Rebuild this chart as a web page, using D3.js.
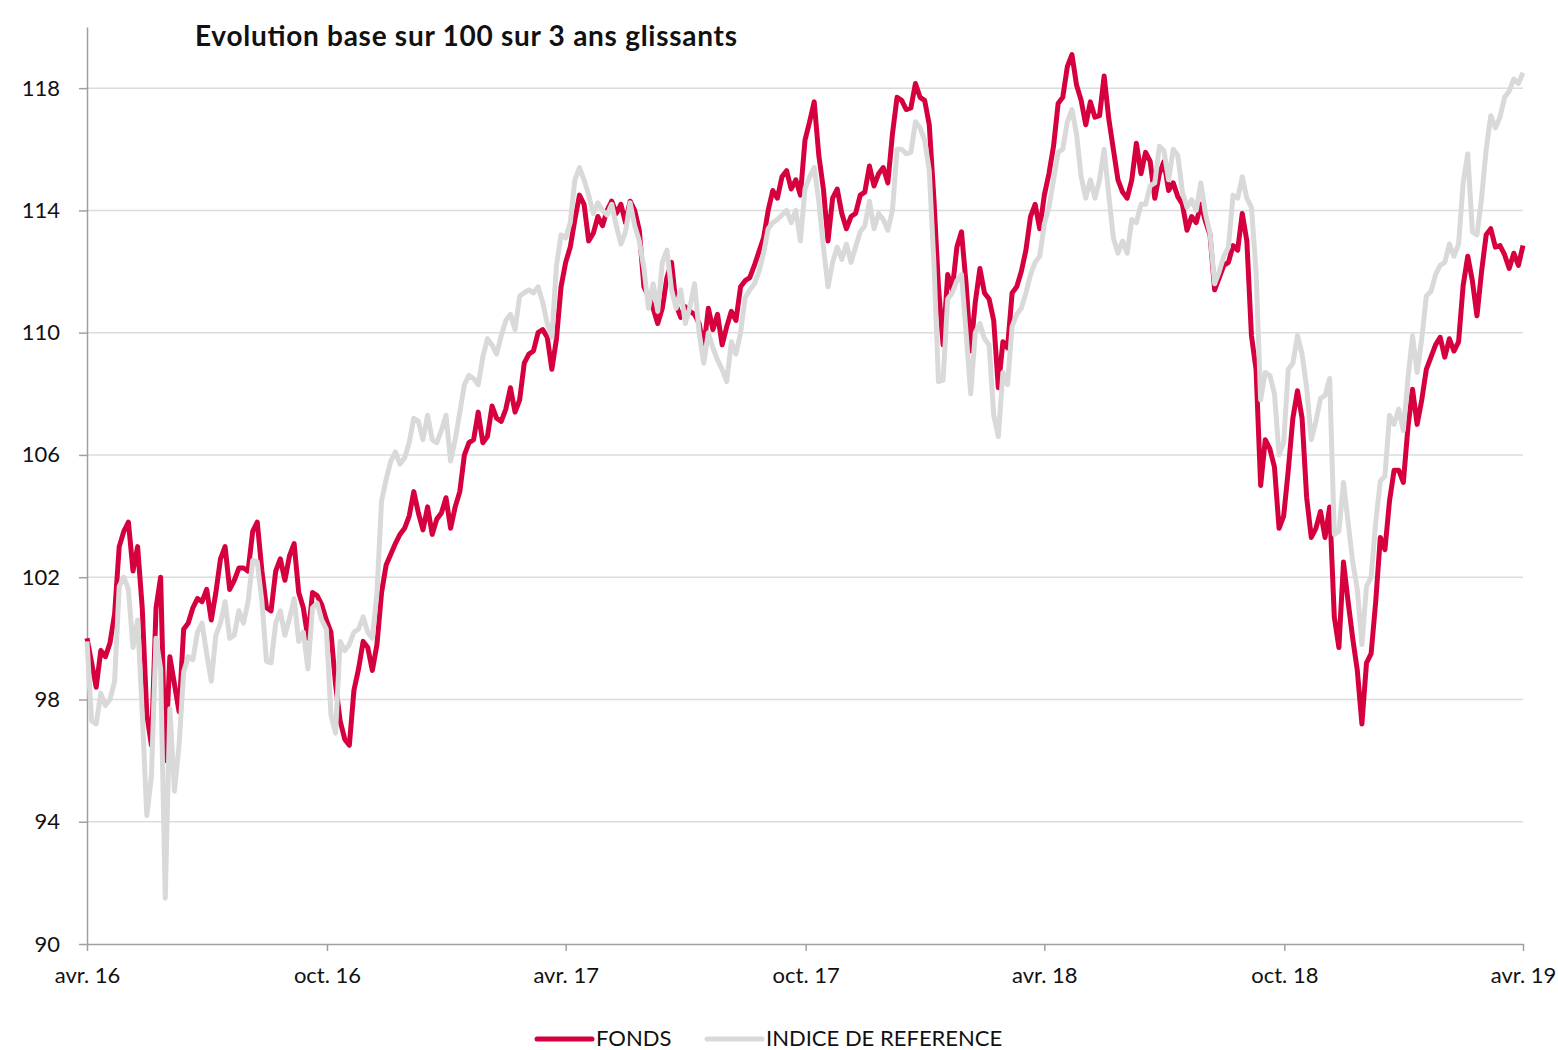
<!DOCTYPE html>
<html>
<head>
<meta charset="utf-8">
<script src="https://cdn.jsdelivr.net/npm/d3@7"></script>
<style>
  body { margin: 0; background: #fff; }
  text { font-family: Lato, "Open Sans", sans-serif; fill: #111; }
</style>
</head>
<body>
<script>
const m = {
  width: 1558,
  height: 1050,
  left: 87,
  right: 35,
  top: 27,
  bottom: 106
}

// twice-weekly observations, avr. 2016 -> avr. 2019
const fonds = [
  100.0, 99.2, 98.4, 99.6, 99.4, 99.85, 100.8, 103.0, 103.5, 103.8,
  102.2, 103.0, 101.0, 97.5, 96.5, 101.0, 102.0, 96.0, 99.4, 98.5,
  97.6, 100.3, 100.5, 101.0, 101.3, 101.2, 101.6, 100.6, 101.5, 102.6,
  103.0, 101.6, 101.9, 102.3, 102.3, 102.2, 103.5, 103.8, 102.2, 101.0,
  100.9, 102.2, 102.6, 101.9, 102.7, 103.1, 101.5, 101.0, 100.0, 101.5,
  101.4, 101.1, 100.6, 100.2, 98.5, 97.3, 96.7, 96.5, 98.3, 99.0,
  99.9, 99.7, 98.95, 99.8, 101.5, 102.4, 102.75, 103.1, 103.4, 103.6,
  104.0, 104.8, 104.1, 103.55, 104.3, 103.4, 103.9, 104.1, 104.6, 103.6,
  104.3, 104.8, 106.0, 106.4, 106.5, 107.4, 106.4, 106.6, 107.6, 107.2,
  107.1, 107.5, 108.2, 107.4, 107.8, 109.0, 109.3, 109.4, 110.0, 110.1,
  109.85, 108.8, 109.8, 111.5, 112.3, 112.8, 113.7, 114.5, 114.2, 113.0,
  113.25, 113.8, 113.5, 114.0, 114.3, 113.9, 114.2, 113.6, 114.3, 114.0,
  113.35, 111.5, 111.2, 110.8, 110.3, 110.8, 111.8, 112.3, 110.9, 110.5,
  110.85, 110.7, 110.6, 110.3, 109.5, 110.8, 110.1, 110.6, 109.6, 110.2,
  110.7, 110.4, 111.5, 111.7, 111.8, 112.2, 112.65, 113.1, 114.0, 114.65,
  114.4, 115.1, 115.3, 114.7, 115.0, 114.5, 116.3, 116.9, 117.55, 115.8,
  114.7, 113.0, 114.4, 114.7, 113.9, 113.4, 113.8, 113.9, 114.5, 114.6,
  115.45, 114.8, 115.2, 115.4, 114.9, 116.5, 117.7, 117.6, 117.3, 117.35,
  118.15, 117.7, 117.6, 116.8, 114.4, 111.5, 109.6, 111.9, 111.4, 112.8,
  113.3, 111.6, 109.4, 111.0, 112.1, 111.3, 111.1, 110.4, 108.2, 109.7,
  109.5, 111.3, 111.5, 112.0, 112.7, 113.8, 114.2, 113.4, 114.5, 115.2,
  116.1, 117.5, 117.7, 118.7, 119.1, 118.1, 117.6, 116.8, 117.55, 117.05,
  117.1, 118.4, 117.0, 116.0, 115.0, 114.6, 114.4, 115.0, 116.2, 115.2,
  115.9, 115.6, 114.4, 115.2, 115.6, 114.65, 114.9, 114.45, 114.2, 113.35,
  113.8, 113.6, 114.2, 113.65, 113.2, 111.4, 111.8, 112.2, 112.3, 112.85,
  112.7, 113.9, 113.0, 109.9, 108.8, 105.0, 106.5, 106.2, 105.6, 103.6,
  104.0, 105.5, 107.2, 108.1, 107.2, 104.6, 103.3, 103.6, 104.15, 103.3,
  104.3, 100.7, 99.7, 102.5, 101.2, 100.0, 98.95, 97.2, 99.2, 99.5,
  101.2, 103.3, 102.9, 104.5, 105.5, 105.5, 105.1, 106.9, 108.15, 107.0,
  107.8, 108.8, 109.2, 109.6, 109.85, 109.2, 109.8, 109.4, 109.7, 111.55,
  112.5, 111.7, 110.55, 112.0, 113.2, 113.4, 112.8, 112.85, 112.55, 112.1,
  112.6, 112.2, 112.85
];

const indice = [
  99.9, 97.3, 97.2, 98.2, 97.8, 98.0, 98.6, 101.7, 102.0, 101.6,
  99.7, 100.6, 97.55, 94.2, 95.5, 100.0, 99.0, 91.5, 97.7, 95.0,
  96.5, 98.9, 99.4, 99.3, 100.2, 100.5, 99.5, 98.6, 100.1, 100.5,
  101.2, 100.0, 100.1, 100.9, 100.5, 101.2, 102.55, 102.5, 101.2, 99.25,
  99.2, 100.5, 100.9, 100.1, 100.65, 101.3, 99.9, 100.2, 99.0, 101.0,
  101.15, 100.6, 100.3, 97.5, 96.9, 99.9, 99.6, 99.8, 100.2, 100.3,
  100.7, 100.2, 100.0, 101.5, 104.5, 105.2, 105.8, 106.1, 105.7, 105.9,
  106.4, 107.2, 107.1, 106.5, 107.3, 106.5, 106.4, 106.8, 107.3, 105.8,
  106.5, 107.4, 108.3, 108.6, 108.5, 108.3, 109.2, 109.8, 109.6, 109.3,
  109.9, 110.4, 110.6, 110.1, 111.2, 111.3, 111.4, 111.3, 111.5, 111.0,
  110.3, 109.85, 112.2, 113.2, 113.1, 113.6, 115.0, 115.4, 115.0, 114.5,
  113.9, 114.25, 114.0, 113.85, 114.2, 113.5, 112.9, 113.3, 114.25, 113.5,
  113.0, 112.1, 110.8, 111.6, 110.7, 112.3, 112.7, 111.4, 110.8, 111.4,
  110.3, 110.85, 111.6, 110.0, 109.0, 110.0, 109.5, 109.1, 108.8, 108.4,
  109.7, 109.3, 110.0, 111.15, 111.4, 111.6, 112.0, 112.6, 113.4, 113.6,
  113.7, 113.85, 114.0, 113.6, 114.0, 113.0, 114.7, 115.1, 115.4, 114.3,
  112.8, 111.5, 112.3, 112.8, 112.4, 112.9, 112.3, 112.8, 113.3, 113.5,
  114.3, 113.4, 113.9, 113.7, 113.35, 114.0, 116.0, 116.0, 115.85, 115.9,
  116.9, 116.7, 116.3, 115.3, 112.3, 108.4, 108.45, 111.1, 111.3, 111.7,
  111.9, 110.0, 108.0, 110.0, 110.3, 109.8, 109.6, 107.3, 106.6, 108.7,
  108.3, 110.2, 110.6, 110.8, 111.3, 111.9, 112.3, 112.5, 113.55, 114.1,
  115.0, 115.9, 116.0, 116.9, 117.3, 116.5, 115.1, 114.4, 115.0, 114.4,
  115.0, 116.0, 114.5, 113.1, 112.6, 113.0, 112.6, 113.7, 113.6, 114.2,
  114.2, 114.8, 114.9, 116.1, 115.95, 115.0, 116.0, 115.8, 114.6, 114.1,
  114.35, 114.0, 114.9, 113.9, 113.25, 111.6, 112.0, 112.5, 112.8, 114.5,
  114.4, 115.1, 114.4, 114.1, 112.0, 107.8, 108.7, 108.6, 108.0, 106.0,
  106.4, 108.8, 109.0, 109.9, 109.3, 108.2, 106.5, 107.1, 107.85, 107.95,
  108.5, 103.4, 103.5, 105.1, 103.8, 102.5, 101.6, 99.8, 101.7, 102.0,
  103.8, 105.15, 105.3, 107.3, 107.0, 107.5, 106.8, 108.5, 109.9, 108.7,
  109.8, 111.2, 111.35, 111.9, 112.2, 112.3, 112.9, 112.5, 112.9, 114.9,
  115.85, 113.3, 113.2, 114.4, 116.0, 117.1, 116.7, 117.05, 117.7, 117.9,
  118.3, 118.15, 118.5
];

const start = new Date(2016, 3, 1);
const end = new Date(2019, 3, 1);
const dates = fonds.map((d, i) => new Date(+start + i * (end - start) / (fonds.length - 1)));

const yTicks = [90, 94, 98, 102, 106, 110, 114, 118];
const xTicks = [new Date(2016, 3, 1), new Date(2016, 9, 1), new Date(2017, 3, 1),
  new Date(2017, 9, 1), new Date(2018, 3, 1), new Date(2018, 9, 1), new Date(2019, 3, 1)];
const xTickLabels = ["avr. 16", "oct. 16", "avr. 17", "oct. 17", "avr. 18", "oct. 18", "avr. 19"];

const seriesNames = ["FONDS", "INDICE DE REFERENCE"];
const colors = ["#d6003f", "#d9d9d9"];

let svg = d3.select("body")
  .append("svg")
  .attr("width", m.width)
  .attr("height", m.height);

let x = d3.scaleTime()
  .domain([start, end])
  .range([m.left, m.width - m.right]);

let y = d3.scaleLinear()
  .domain([90, 120])
  .range([m.height - m.bottom, m.top]);

// gridlines
svg.append("g")
  .selectAll("line")
  .data(yTicks.slice(1))
  .enter()
  .append("line")
  .attr("x1", m.left)
  .attr("x2", m.width - m.right)
  .attr("y1", d => y(d))
  .attr("y2", d => y(d))
  .attr("stroke", "#dcdcdc")
  .attr("stroke-width", 1.5);

// axes
let yAxis = svg.append("g")
  .attr("transform", `translate(${m.left},0)`)
  .call(d3.axisLeft(y).tickValues(yTicks).tickSize(8).tickSizeOuter(0).tickPadding(19));

let xAxis = svg.append("g")
  .attr("transform", `translate(0,${m.height - m.bottom})`)
  .call(d3.axisBottom(x).tickValues(xTicks).tickSize(7).tickSizeOuter(0).tickPadding(16)
    .tickFormat((d, i) => xTickLabels[i]));

[yAxis, xAxis].forEach(a => {
  a.select(".domain").attr("stroke", "#a0a0a0").attr("stroke-width", 1.5);
  a.selectAll(".tick line").attr("stroke", "#a0a0a0").attr("stroke-width", 1.5);
  a.selectAll("text").attr("font-size", 22).attr("fill", "#111")
    .style("font-family", "Lato, 'Open Sans', sans-serif");
});

// series lines
let line = d3.line()
  .x((d, i) => x(dates[i]))
  .y(d => y(d));

[fonds, indice].forEach((s, k) => {
  svg.append("path")
    .datum(s)
    .attr("fill", "none")
    .attr("stroke", colors[k])
    .attr("stroke-width", 5)
    .attr("stroke-linejoin", "round")
    .attr("d", line);
});

// title
svg.append("text")
  .attr("x", 195)
  .attr("y", 46)
  .attr("font-size", 28)
  .attr("font-weight", "bold")
  .attr("textLength", 542)
  .attr("lengthAdjust", "spacing")
  .text("Evolution base sur 100 sur 3 ans glissants");

// legend
let legend = svg.append("g");
let legX = [537, 707];
seriesNames.forEach((name, k) => {
  legend.append("line")
    .attr("x1", legX[k])
    .attr("x2", legX[k] + 55)
    .attr("y1", 1039)
    .attr("y2", 1039)
    .attr("stroke", colors[k])
    .attr("stroke-width", 5)
    .attr("stroke-linecap", "round");
  legend.append("text")
    .attr("x", legX[k] + 59)
    .attr("y", 1046)
    .attr("font-size", 22)
    .text(name);
});
</script>
</body>
</html>
